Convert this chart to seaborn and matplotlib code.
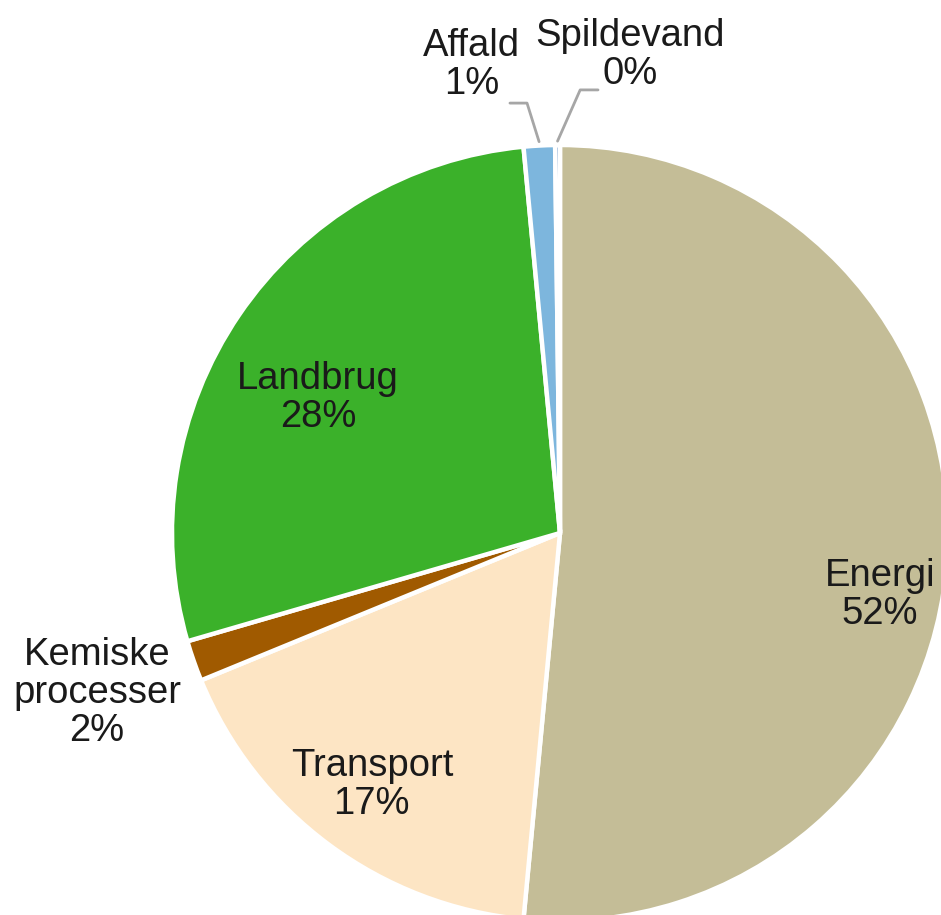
import matplotlib
matplotlib.use("Agg")
import matplotlib.pyplot as plt
import seaborn as sns
import numpy as np

categories = ["Energi", "Transport", "Kemiske\nprocesser", "Landbrug", "Affald", "Spildevand"]
values = [51.5, 17.3, 1.7, 28.0, 1.3, 0.2]
colors = ["#C4BD97", "#FDE5C4", "#A05A00", "#3BB12A", "#7DB6DD", "#4F81BD"]

sns.set_theme(style="white")
plt.rcParams['font.family'] = ['Liberation Sans', 'DejaVu Sans']

W, H = 941, 915
fig = plt.figure(figsize=(W / 100, H / 100), dpi=100)
cx, cy, r = 560, 533, 388
ax = fig.add_axes([(cx - r) / W, (H - cy - r) / H, 2 * r / W, 2 * r / H])

wedges, _ = ax.pie(values, colors=colors, startangle=90, counterclock=False,
                   radius=1.0, wedgeprops=dict(edgecolor="white", linewidth=3.2))
ax.set_xlim(-1, 1)
ax.set_ylim(-1, 1)
ax.set_aspect("auto")
ax.axis("off")

# label positions (data coords, pie radius = 1)
label_pos = [(0.825, -0.16), (-0.485, -0.65), (-1.193, -0.412),
             (-0.624, 0.348), (-0.227, 1.206), (0.18, 1.232)]
total = sum(values)
for cat, v, (lx, ly) in zip(categories, values, label_pos):
    ax.text(lx, ly, f"{cat}\n{round(v / total * 100):.0f}%", ha="center", va="center",
            fontsize=27.5, color="#1a1a1a", linespacing=1.08, clip_on=False)

# leader lines for small slices
def mid_point(w):
    ang = np.deg2rad((w.theta1 + w.theta2) / 2)
    return np.cos(ang) * 1.01, np.sin(ang) * 1.01

ex, ey = mid_point(wedges[4])
ax.plot([-0.129, -0.085, ex], [1.108, 1.108, ey], color="#A6A6A6", lw=2, clip_on=False)
ex, ey = mid_point(wedges[5])
ax.plot([0.098, 0.052, ex], [1.142, 1.142, ey], color="#A6A6A6", lw=2, clip_on=False)

fig.savefig("out.png", dpi=100)
